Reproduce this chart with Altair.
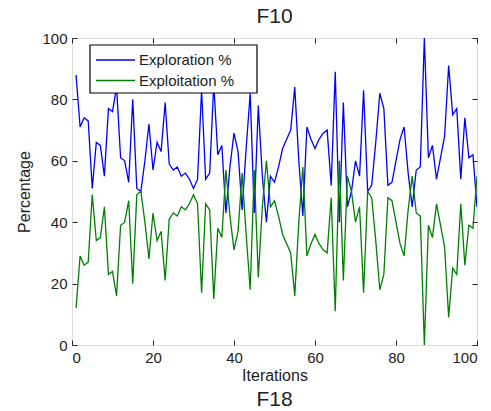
import altair as alt
import pandas as pd

iterations = list(range(1, 101))

exploitation = [
    12, 29, 26, 27, 49, 34, 35, 45, 23, 24,
    16, 39, 40, 47, 20, 49, 50, 40, 28, 43,
    34, 37, 21, 41, 43, 42, 45, 44, 46, 49,
    46, 17, 46, 44, 15, 38, 35, 57, 42, 31,
    37, 56, 36, 18, 57, 22, 45, 60, 45, 47,
    42, 36, 33, 30, 16, 40, 58, 29, 33, 36,
    33, 31, 30, 48, 11, 60, 21, 55, 50, 40,
    45, 17, 50, 48, 34, 18, 23, 48, 47, 40,
    33, 29, 44, 55, 43, 42, 0, 39, 35, 46,
    39, 32, 9, 25, 23, 46, 26, 39, 38, 55,
]

exploration = [
    88, 71, 74, 73, 51, 66, 65, 55, 77, 76,
    84, 61, 60, 53, 80, 51, 50, 60, 72, 57,
    66, 63, 79, 59, 57, 58, 55, 56, 54, 51,
    54, 83, 54, 56, 85, 62, 65, 43, 58, 69,
    63, 44, 64, 82, 43, 78, 55, 40, 55, 53,
    58, 64, 67, 70, 84, 60, 42, 71, 67, 64,
    67, 69, 70, 52, 89, 40, 79, 45, 50, 60,
    55, 83, 50, 52, 66, 82, 77, 52, 53, 60,
    67, 71, 56, 45, 57, 58, 100, 61, 65, 54,
    61, 68, 91, 75, 77, 54, 74, 61, 62, 45,
]

series_names = ["Exploration %", "Exploitation %"]
series_colors = ["#0000FF", "#008000"]
x_ticks = [0, 20, 40, 60, 80, 100]
y_ticks = [0, 20, 40, 60, 80, 100]

df = pd.DataFrame({
    "Iteration": iterations * 2,
    "Value": exploration + exploitation,
    "Series": [series_names[0]] * len(iterations) + [series_names[1]] * len(iterations),
    "order": [0] * len(iterations) + [1] * len(iterations),
})

FONT = "Liberation Sans"
TXT = "#222"
W, H = 405, 307

xscale = alt.Scale(domain=[0, 100], nice=False, zero=False)
yscale = alt.Scale(domain=[0, 100], nice=False)

lines = alt.Chart(df).mark_line(strokeWidth=1.3, clip=True).encode(
    x=alt.X("Iteration:Q", scale=xscale,
            axis=alt.Axis(values=x_ticks, orient="bottom", grid=False, domain=False,
                          tickSize=5, offset=-5, tickColor=TXT, labelPadding=5,
                          labelFontSize=15, labelFont=FONT, labelColor=TXT,
                          title="Iterations", titleFont=FONT, titleFontSize=16,
                          titleFontWeight="normal", titleColor=TXT,
                          titleX=W / 2, titleY=35, titleBaseline="middle")),
    y=alt.Y("Value:Q", scale=yscale,
            axis=alt.Axis(values=y_ticks, orient="left", grid=False, domain=False,
                          tickSize=5, offset=-5, tickColor=TXT, labelPadding=5,
                          labelFontSize=15, labelFont=FONT, labelColor=TXT,
                          title="Percentage", titleFont=FONT, titleFontSize=16,
                          titleFontWeight="normal", titleColor=TXT,
                          titleX=-53, titleY=H / 2, titleBaseline="middle", titleAngle=-90)),
    color=alt.Color("Series:N",
                    scale=alt.Scale(domain=series_names, range=series_colors),
                    legend=None),
    order=alt.Order("order:Q"),
)

frame = alt.Chart(df).mark_point(opacity=0).encode(
    x=alt.X("Iteration:Q", scale=xscale,
            axis=alt.Axis(values=x_ticks, orient="top", grid=False, domain=False,
                          labels=False, tickSize=5, offset=-5, tickColor=TXT, title=None)),
    y=alt.Y("Value:Q", scale=yscale,
            axis=alt.Axis(values=y_ticks, orient="right", grid=False, domain=False,
                          labels=False, tickSize=5, offset=-5, tickColor=TXT, title=None)),
)

# legend drawn manually (box, two line samples, two labels)
leg_df = pd.DataFrame({"name": series_names})

leg_box = alt.Chart(leg_df.head(1)).mark_rect(
    fill="white", stroke="black", strokeWidth=1.2
).encode(x=alt.value(18), x2=alt.value(185), y=alt.value(7), y2=alt.value(55))

leg_line1 = alt.Chart(leg_df.head(1)).mark_rule(color=series_colors[0], strokeWidth=1.5).encode(
    x=alt.value(24), x2=alt.value(63), y=alt.value(22))
leg_line2 = alt.Chart(leg_df.head(1)).mark_rule(color=series_colors[1], strokeWidth=1.5).encode(
    x=alt.value(24), x2=alt.value(63), y=alt.value(42.5))

leg_txt1 = alt.Chart(pd.DataFrame({"t": [series_names[0]]})).mark_text(
    font=FONT, fontSize=15, color=TXT, align="left", baseline="middle"
).encode(x=alt.value(67), y=alt.value(22), text="t:N")
leg_txt2 = alt.Chart(pd.DataFrame({"t": [series_names[1]]})).mark_text(
    font=FONT, fontSize=15, color=TXT, align="left", baseline="middle"
).encode(x=alt.value(67), y=alt.value(42.5), text="t:N")

top_title = alt.Chart(pd.DataFrame({"t": ["F10"]})).mark_text(
    font=FONT, fontSize=21, color=TXT, baseline="middle", align="center"
).encode(x=alt.value(W / 2), y=alt.value(-21), text="t:N")

bottom_title = alt.Chart(pd.DataFrame({"t": ["F18"]})).mark_text(
    font=FONT, fontSize=21, color=TXT, baseline="middle", align="center"
).encode(x=alt.value(W / 2), y=alt.value(362), text="t:N")

chart = alt.layer(
    lines, frame, leg_box, leg_line1, leg_line2, leg_txt1, leg_txt2, top_title, bottom_title
).resolve_axis(
    x="independent", y="independent"
).properties(
    width=W, height=H,
    autosize=alt.AutoSizeParams(type="none"),
    padding={"left": 72, "top": 38, "right": 14, "bottom": 66},
).configure_view(stroke=TXT, strokeWidth=1.2).configure(background="white")

chart.save("out.html", embed_options={"renderer": "svg", "actions": False})
